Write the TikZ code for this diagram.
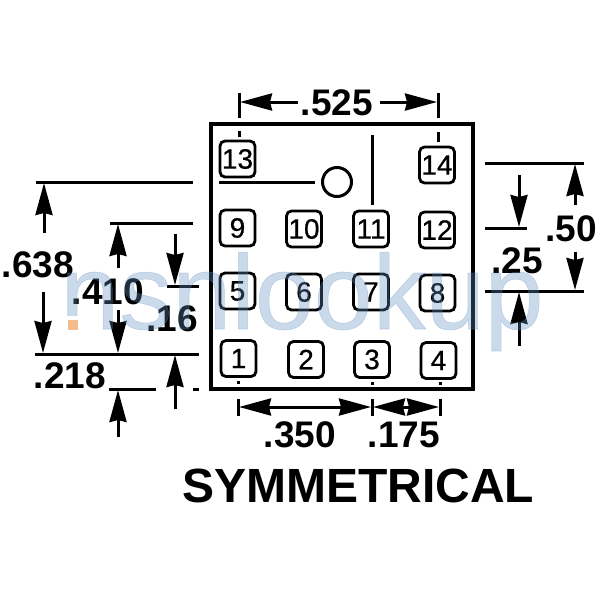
\documentclass[tikz,border=0pt]{standalone}
\usepackage{fontspec}
\setmainfont{Liberation Sans}
\usetikzlibrary{arrows.meta}
\tikzset{
  pin/.style={draw,line width=1.4pt,rounded corners=2.5pt,minimum width=17.5pt,minimum height=18pt,inner sep=0pt,font=\fontsize{14}{14}\selectfont\addfontfeature{FakeBold=0.6}},
  lead/.style={line width=1.5pt},
  dimarrow/.style={line width=1.5pt,-{Stealth[length=16pt,width=8.5pt,inset=1pt]}},
  dimlabel/.style={inner sep=0pt,font=\fontsize{18.5}{20}\bfseries\selectfont},
  wm/.style={inner sep=0pt,text=wmblue,font=\fontsize{53}{54}\selectfont\addfontfeature{FakeBold=0.5}}
}
\definecolor{wmblue}{HTML}{5F8FBF}
\definecolor{wmorange}{HTML}{F2A05A}
\begin{document}
\begin{tikzpicture}[x=0.5pt,y=-0.5pt]
\useasboundingbox (0,0) rectangle (600,600);
% outer body
\coordinate (bodyA) at (211,124); \coordinate (bodyB) at (473,389);
\draw[line width=1.75pt] (bodyA) rectangle (bodyB);
% pins
\foreach \n/\x/\y/\t in {p13/237.5/159/13,p14/437/165/14,p9/237.5/228/9,p10/304/229/10,p11/371/229/11,p12/437/230/12,
  p5/237.5/291/5,p6/304/292/6,p7/371/292/7,p8/437.5/293/8,p1/238.5/358.5/1,p2/306/359.5/2,p3/372/359.5/3,p4/438.5/360.5/4}
  \node[pin] (\n) at (\x,\y) {\t};
% index marks
\foreach \a/\b/\c/\d in {239/131/239/137,438/132/438/142,238/381/238/384,372/382/372/385,440/382/440/385}
  \draw[lead] (\a,\b) -- (\c,\d);
% polarity mark
\node[draw,circle,line width=1.5pt,minimum size=14.5pt,inner sep=0pt] (mark) at (337,182) {};
\coordinate (markL) at (219,182); \coordinate (markR) at (315,182);
\draw[lead] (markL) -- (markR);
\coordinate (vT) at (372,135); \coordinate (vB) at (372,205);
\draw[lead] (vT) -- (vB);
% top dimension
\coordinate (tl1) at (239,93); \coordinate (tl2) at (239,118);
\coordinate (tr1) at (438,93); \coordinate (tr2) at (438,118);
\draw[lead] (tl1) -- (tl2); \draw[lead] (tr1) -- (tr2);
\node[dimlabel] (d525) at (337,103) {.525};
\coordinate (ts1) at (298,102); \coordinate (ts2) at (380,102);
\draw[dimarrow] (ts1) -- (240,102);
\draw[dimarrow] (ts2) -- (437,102);
% left leaders
\foreach \a/\b/\c/\d in {36/182/193/182,110/223/193/223,167/286/199/286,35/354/199/354,109/389/156/389,193/389/199/389}
  \draw[lead] (\a,\b) -- (\c,\d);
\node[dimlabel] (d638) at (38,265) {.638};
\node[dimlabel] (d410) at (108,292) {.410};
\node[dimlabel] (d16) at (172,319) {.16};
\node[dimlabel] (d218) at (70,376) {.218};
\draw[dimarrow] (44,233) -- (44,183);
\draw[dimarrow] (43,292) -- (43,353);
\draw[dimarrow] (118,268) -- (118,224);
\draw[dimarrow] (118,310) -- (118,353);
\draw[dimarrow] (175,234) -- (175,285);
\draw[dimarrow] (175,409) -- (175,355);
\draw[dimarrow] (118,437) -- (118,390);
% bottom dimension
\foreach \x in {238,372,440} \draw[lead] (\x,399) -- (\x,416);
\draw[dimarrow] (305,407) -- (239,407);
\draw[dimarrow] (305,407) -- (371,407);
\draw[dimarrow] (406,407) -- (373,407);
\draw[dimarrow] (406,407) -- (439,407);
\node[dimlabel] (d350) at (300,435) {.350};
\node[dimlabel] (d175) at (404,435) {.175};
\node[inner sep=0pt,font=\fontsize{24}{26}\bfseries\selectfont] (title) at (358,486) {SYMMETRICAL};
% right dimension
\foreach \a/\b/\c/\d in {485/163/584/163,485/228/527/228,485/291/584/291}
  \draw[lead] (\a,\b) -- (\c,\d);
\node[dimlabel] (d50) at (571,229) {.50};
\node[dimlabel] (d25) at (517,261) {.25};
\draw[dimarrow] (519,175) -- (519,227);
\draw[dimarrow] (519,346) -- (519,292);
\draw[dimarrow] (575,205) -- (575,164);
\draw[dimarrow] (575,252) -- (575,290);
% watermark
\begin{scope}[opacity=.33]
\node[wm,anchor=base west] (wmark) at (60,329) {nsnlookup};
\end{scope}
\fill[white] (64,316) rectangle (82,333);
\fill[wmorange,opacity=.7] (68,320) rectangle (78,330);
\end{tikzpicture}
\end{document}
